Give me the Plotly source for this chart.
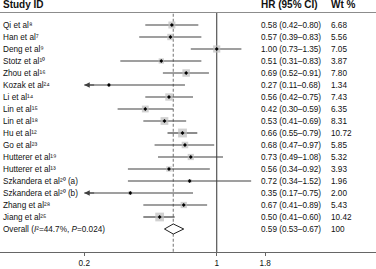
import math
import plotly.graph_objects as go

studies = ["Qi et al\u2078", "Han et al\u2077", "Deng et al\u2079",
           "Stotz et al\u00b9\u2070", "Zhou et al\u00b9\u2076", "Kozak et al\u00b2\u2074",
           "Li et al\u00b9\u2074", "Lin et al\u00b9\u2075", "Lin et al\u00b9\u2078",
           "Hu et al\u00b9\u00b2", "Go et al\u00b2\u00b3", "Hutterer et al\u00b9\u2079",
           "Hutterer et al\u00b9\u00b3", "Szkandera et al\u00b2\u2070 (a)",
           "Szkandera et al\u00b2\u2070 (b)", "Zhang et al\u00b2\u2078", "Jiang et al\u00b2\u2075"]
hr = [0.58, 0.57, 1.00, 0.51, 0.69, 0.27, 0.56, 0.42, 0.53, 0.66, 0.68, 0.73, 0.56, 0.72, 0.35, 0.67, 0.50]
lo = [0.42, 0.39, 0.73, 0.31, 0.52, 0.11, 0.42, 0.30, 0.41, 0.55, 0.47, 0.49, 0.34, 0.34, 0.17, 0.41, 0.41]
hi = [0.80, 0.83, 1.35, 0.83, 0.91, 0.68, 0.75, 0.59, 0.69, 0.79, 0.97, 1.08, 0.92, 1.52, 0.75, 0.89, 0.60]
wt = [6.68, 5.56, 7.05, 3.87, 7.80, 1.34, 7.43, 6.35, 8.31, 10.72, 5.85, 5.32, 3.93, 1.96, 2.00, 5.43, 10.42]
overall_label = "Overall (<i>I</i>\u00b2=44.7%, <i>P</i>=0.024)"
overall_hr, overall_lo, overall_hi, overall_wt = 0.59, 0.53, 0.67, 100
tick_vals = [0.2, 1, 1.8]
tick_text = ["0.2", "1", "1.8"]
clip_lo = 0.2

W, H = 376, 269
FONT = "Liberation Sans, Arial, sans-serif"
n = len(studies)
rows = list(range(n))
ov_row = n
y_top = -2.083
y_bot = 18.917
header_y = -1.67
header_line_y = -1.04

fig = go.Figure()

# reference lines
fig.add_trace(go.Scatter(x=[overall_hr, overall_hr], y=[header_line_y + 0.1, y_bot], mode="lines",
                         line=dict(color="#8a8a8a", width=1.2, dash="3px,2px"), hoverinfo="skip"))
fig.add_trace(go.Scatter(x=[1, 1], y=[header_line_y, y_bot], mode="lines",
                         line=dict(color="#555555", width=1.2), hoverinfo="skip"))

# CI lines
cx, cy = [], []
for i in rows:
    cx += [max(lo[i], clip_lo), hi[i], None]
    cy += [i, i, None]
fig.add_trace(go.Scatter(x=cx, y=cy, mode="lines", line=dict(color="#404040", width=1.2), hoverinfo="skip"))

# weight boxes
fig.add_trace(go.Scatter(x=hr, y=rows, mode="markers",
                         marker=dict(symbol="square", color="#bdbdbd",
                                     size=[2.7 * math.sqrt(w) for w in wt], line=dict(width=0)),
                         hoverinfo="skip"))
# point estimates
fig.add_trace(go.Scatter(x=hr, y=rows, mode="markers",
                         marker=dict(symbol="diamond", color="#000000", size=3), hoverinfo="skip"))

# overall diamond
dh = 0.42
fig.add_trace(go.Scatter(x=[overall_lo, overall_hr, overall_hi, overall_hr, overall_lo],
                         y=[ov_row, ov_row - dh, ov_row, ov_row + dh, ov_row],
                         mode="lines", fill="toself", fillcolor="white",
                         line=dict(color="#222222", width=1), hoverinfo="skip"))

annotations = []
# clipped arrows
for i in rows:
    if lo[i] < clip_lo:
        annotations.append(dict(x=math.log10(clip_lo), y=i, ax=math.log10(clip_lo) + 0.06, ay=i,
                                xref="x", yref="y", axref="x", ayref="y", text="",
                                showarrow=True, arrowhead=2, arrowsize=1.0, arrowwidth=1.1,
                                arrowcolor="#404040", standoff=0, startstandoff=0))

def txt(x, y, s, size=8.2, bold=False):
    annotations.append(dict(x=x / W, y=y, xref="paper", yref="y", text=("<b>%s</b>" % s) if bold else s,
                            showarrow=False, xanchor="left", yanchor="middle",
                            font=dict(family=FONT, size=size, color="#111111")))

txt(1, header_y, "Study ID", size=10, bold=True)
txt(259, header_y, "HR (95% CI)", size=10, bold=True)
txt(329, header_y, "Wt %", size=10, bold=True)
for i in rows:
    txt(1, i, studies[i])
    txt(259, i, "%.2f (%.2f\u2013%.2f)" % (hr[i], lo[i], hi[i]))
    txt(329, i, "%.2f" % wt[i])
txt(1, ov_row, overall_label)
txt(259, ov_row, "%.2f (%.2f\u2013%.2f)" % (overall_hr, overall_lo, overall_hi))
txt(329, ov_row, "%d" % overall_wt)

shapes = [dict(type="line", xref="paper", yref="y", x0=0, x1=1, y0=header_line_y, y1=header_line_y,
               line=dict(color="#8c8c8c", width=1.2))]

px_per_ln = 82.3
x1px = 216.7
lmin = (0 - x1px) / px_per_ln / math.log(10)
lmax = (W - x1px) / px_per_ln / math.log(10)

fig.update_layout(
    width=W, height=H, margin=dict(l=0, r=0, t=0, b=17),
    paper_bgcolor="white", plot_bgcolor="white", showlegend=False,
    annotations=annotations, shapes=shapes,
    xaxis=dict(type="log", range=[lmin, lmax], showgrid=False, zeroline=False,
               showline=True, linecolor="#666666", linewidth=1.2,
               ticks="outside", ticklen=3, tickcolor="#666666", tickwidth=1,
               tickvals=tick_vals, ticktext=tick_text,
               tickfont=dict(family=FONT, size=8.2, color="#111111")),
    yaxis=dict(range=[y_bot, y_top], showgrid=False, zeroline=False, showticklabels=False,
               showline=False),
)
fig.write_html("out.html")
